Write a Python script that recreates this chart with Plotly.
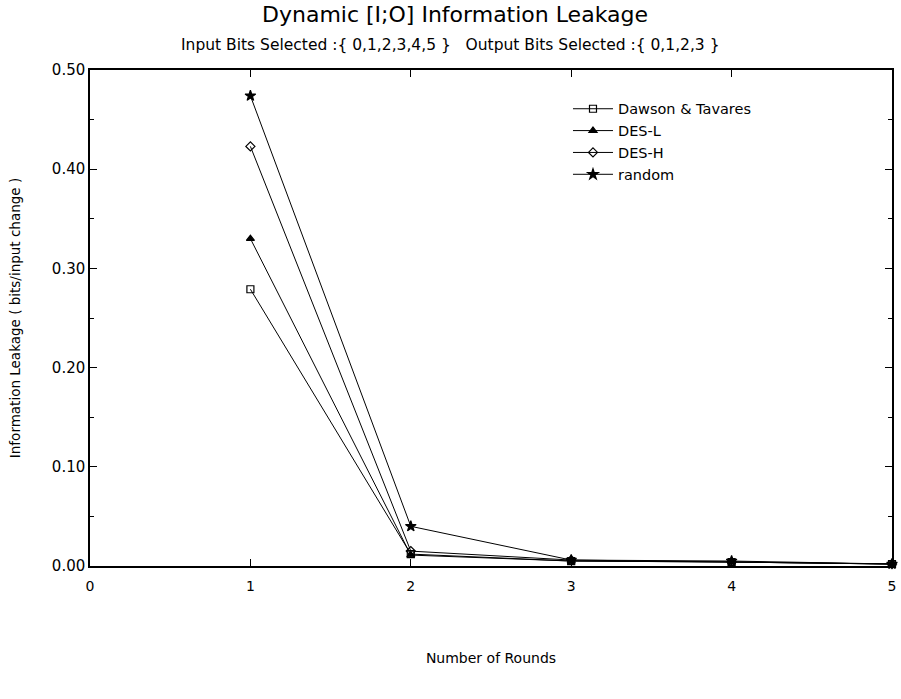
import plotly.graph_objects as go

rounds = [1, 2, 3, 4, 5]
dawson_tavares = [0.279, 0.012, 0.005, 0.004, 0.002]
des_l = [0.330, 0.011, 0.005, 0.004, 0.002]
des_h = [0.423, 0.015, 0.006, 0.004, 0.002]
random_cipher = [0.474, 0.040, 0.006, 0.005, 0.002]

series = [
    ("Dawson & Tavares", dawson_tavares, "square-open", 7),
    ("DES-L", des_l, "triangle-up", 7),
    ("DES-H", des_h, "diamond-open", 7),
    ("random", random_cipher, "star", 8),
]

x_ticks = [0, 1, 2, 3, 4, 5]
y_ticks = [0.0, 0.1, 0.2, 0.3, 0.4, 0.5]
y_ticklabels = ["0.00", "0.10", "0.20", "0.30", "0.40", "0.50"]

FONT = "DejaVu Sans"

fig = go.Figure()
for name, vals, sym, sz in series:
    fig.add_trace(go.Scatter(
        x=rounds, y=vals, name=name, mode="lines+markers",
        line=dict(color="black", width=1),
        marker=dict(symbol=sym, size=sz, color="black",
                    line=dict(color="black", width=1.2)),
        cliponaxis=False,
    ))

axis_common = dict(
    showline=True, linecolor="black", linewidth=1.5, mirror="allticks",
    ticks="inside", ticklen=7, tickcolor="black", tickwidth=1,
    showgrid=False, zeroline=False, ticklabeloverflow="allow",
)

fig.update_layout(
    width=901, height=699,
    paper_bgcolor="white", plot_bgcolor="white",
    margin=dict(l=90, r=5, t=70, b=133),
    font=dict(family=FONT, color="black"),
    title=dict(
        text="Dynamic [I;O] Information Leakage",
        x=0.505, xanchor="center", y=0.979, yanchor="middle",
        font=dict(family=FONT, size=22, color="black"),
    ),
    annotations=[dict(
        text="Input Bits Selected :{ 0,1,2,3,4,5 }   Output Bits Selected :{ 0,1,2,3 }",
        xref="paper", yref="paper", x=0.45, y=1.0, yanchor="bottom", xanchor="center",
        yshift=14, showarrow=False,
        font=dict(family=FONT, size=15.5, color="black"),
    )],
    xaxis=dict(
        range=[0, 5], tickvals=x_ticks, ticktext=[str(v) for v in x_ticks],
        tickfont=dict(family=FONT, size=14, color="black"),
        ticklabelstandoff=6,
        title=dict(text="Number of Rounds", font=dict(family=FONT, size=14), standoff=61),
        **axis_common,
    ),
    yaxis=dict(
        range=[0, 0.5], tickvals=y_ticks, ticktext=y_ticklabels,
        tickfont=dict(family=FONT, size=15, color="black"),
        minor=dict(dtick=0.05, ticks="inside", ticklen=4, tickcolor="black"),
        title=dict(text="Information Leakage ( bits/input change )",
                   font=dict(family=FONT, size=13.5), standoff=28),
        **axis_common,
    ),
    legend=dict(
        x=0.596, y=0.954, xanchor="left", yanchor="top",
        bgcolor="rgba(0,0,0,0)", borderwidth=0,
        font=dict(family=FONT, size=14.5, color="black"),
        itemwidth=40, tracegroupgap=0,
    ),
)

fig.write_html(
    "out.html",
    config={"displayModeBar": False},
    post_script="document.body.style.margin='0px';document.body.style.overflow='hidden';",
)
